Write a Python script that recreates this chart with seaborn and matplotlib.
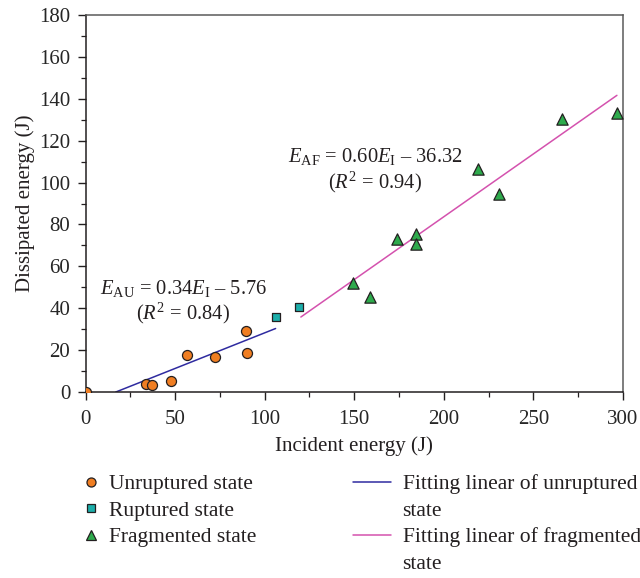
import numpy as np
import pandas as pd
import matplotlib
matplotlib.use("Agg")
import matplotlib.pyplot as plt
import seaborn as sns
from matplotlib.lines import Line2D
from matplotlib.ticker import MultipleLocator

# ---- data ----
unruptured_x = [0.0, 33.8, 37.1, 47.7, 56.5, 72.3, 89.4, 90.3]
unruptured_y = [0.0, 3.8, 3.3, 5.3, 17.8, 16.9, 29.3, 18.6]
ruptured_x = [106.1, 119.3]
ruptured_y = [35.8, 40.4]
fragmented_x = [149.4, 158.9, 174.0, 184.4, 184.4, 218.9, 230.9, 265.9, 296.7]
fragmented_y = [52.2, 45.5, 73.1, 75.6, 70.7, 106.6, 94.7, 130.4, 133.2]

# fitted lines (from the equations printed on the chart)
fit_u_slope, fit_u_icpt = 0.34, -5.76
fit_f_slope, fit_f_icpt = 0.60, -36.32
fit_u_xrange = [16.9, 106.1]
fit_f_xrange = [120.2, 296.6]

states = ["Unruptured state", "Ruptured state", "Fragmented state"]
fit_label_lines = ["Fitting linear of unruptured", "state",
                   "Fitting linear of fragmented", "state"]

# ---- style ----
sns.set_theme(style="ticks")
plt.rcParams["font.family"] = ["Liberation Serif", "DejaVu Serif"]
plt.rcParams["mathtext.fontset"] = "custom"
plt.rcParams["mathtext.rm"] = "Liberation Serif"
plt.rcParams["mathtext.it"] = "Liberation Serif:italic"
plt.rcParams["text.color"] = "#231f20"
plt.rcParams["axes.labelcolor"] = "#231f20"

c_orange = "#F07E22"
c_teal = "#1BAEAA"
c_green = "#2EAA4C"
c_blue = "#2F2BA0"
c_pink = "#D452AE"

df = pd.DataFrame({
    "x": unruptured_x + ruptured_x + fragmented_x,
    "y": unruptured_y + ruptured_y + fragmented_y,
    "state": [states[0]] * len(unruptured_x) + [states[1]] * len(ruptured_x)
             + [states[2]] * len(fragmented_x),
})

fu = pd.DataFrame({"x": fit_u_xrange})
fu["y"] = fit_u_slope * fu["x"] + fit_u_icpt
ff = pd.DataFrame({"x": fit_f_xrange})
ff["y"] = fit_f_slope * ff["x"] + fit_f_icpt

fig = plt.figure(figsize=(6.4, 5.78), dpi=100)
ax = fig.add_axes([85.5 / 640, 1 - 392 / 578, (623 - 85.5) / 640, (392 - 15) / 578])

sns.lineplot(data=fu, x="x", y="y", ax=ax, color=c_blue, lw=1.1, zorder=2)
sns.lineplot(data=ff, x="x", y="y", ax=ax, color=c_pink, lw=1.1, zorder=2)

palette = {states[0]: c_orange, states[1]: c_teal, states[2]: c_green}
markers = {states[0]: "o", states[1]: "s", states[2]: "^"}
sizes = {states[0]: 52, states[1]: 32, states[2]: 66}
for st in states:
    sub = df[df["state"] == st]
    sns.scatterplot(data=sub, x="x", y="y", ax=ax, color=palette[st],
                    marker=markers[st], s=sizes[st], edgecolor="#231f20",
                    linewidth=0.9, zorder=3, legend=False)

ax.set_xlim(0, 300)
ax.set_ylim(0, 180)
ax.xaxis.set_major_locator(MultipleLocator(50))
ax.xaxis.set_minor_locator(MultipleLocator(25))
ax.yaxis.set_major_locator(MultipleLocator(20))
ax.yaxis.set_minor_locator(MultipleLocator(10))
ax.tick_params(which="major", direction="out", length=6, width=1.0,
               labelsize=15, pad=5, color="#231f20")
ax.tick_params(axis="x", which="major", pad=7)
ax.tick_params(which="minor", direction="out", length=3.5, width=0.9,
               color="#231f20")
for s in ["left", "bottom"]:
    ax.spines[s].set_color("#231f20")
    ax.spines[s].set_linewidth(1.1)
for s in ["top", "right"]:
    ax.spines[s].set_visible(True)
    ax.spines[s].set_color("#5a5a5a")
    ax.spines[s].set_linewidth(1.1)

ax.set_xlabel("Incident energy (J)", fontsize=15, labelpad=5)
ax.set_ylabel("Dissipated energy (J)", fontsize=15, labelpad=3)

ax.text(161.5, 112.4, r"$E_{\mathrm{AF}}$ = 0.60$E_{\mathrm{I}}$ – 36.32",
        fontsize=14.8, ha="center", va="center")
ax.text(161.5, 100.3, r"($R^{2}$ = 0.94)", fontsize=14.8, ha="center", va="center")
ax.text(54.5, 49.5, r"$E_{\mathrm{AU}}$ = 0.34$E_{\mathrm{I}}$ – 5.76",
        fontsize=14.8, ha="center", va="center")
ax.text(54.5, 37.3, r"($R^{2}$ = 0.84)", fontsize=14.8, ha="center", va="center")

# legends
h1 = [Line2D([], [], ls="none", marker="o", ms=6.5, mfc=c_orange, mec="#231f20", mew=0.9),
      Line2D([], [], ls="none", marker="s", ms=5.4, mfc=c_teal, mec="#231f20", mew=0.9),
      Line2D([], [], ls="none", marker="^", ms=7.2, mfc=c_green, mec="#231f20", mew=0.9)]
leg1 = fig.legend(h1, states, loc="upper left", bbox_to_anchor=(81 / 640, 1 - 474 / 578),
                  frameon=False, fontsize=15.5, handlelength=0.9, handletextpad=0.4,
                  labelspacing=0.3, borderpad=0, borderaxespad=0)
blank = Line2D([], [], color="none", lw=0)
h2 = [Line2D([], [], color=c_blue, lw=1.1), blank,
      Line2D([], [], color=c_pink, lw=1.1), blank]
leg2 = fig.legend(h2, fit_label_lines, loc="upper left",
                  bbox_to_anchor=(353 / 640, 1 - 474 / 578),
                  frameon=False, fontsize=15.5, handlelength=1.75, handletextpad=0.55,
                  labelspacing=0.3, borderpad=0, borderaxespad=0)

fig.savefig("out.png", dpi=100)
